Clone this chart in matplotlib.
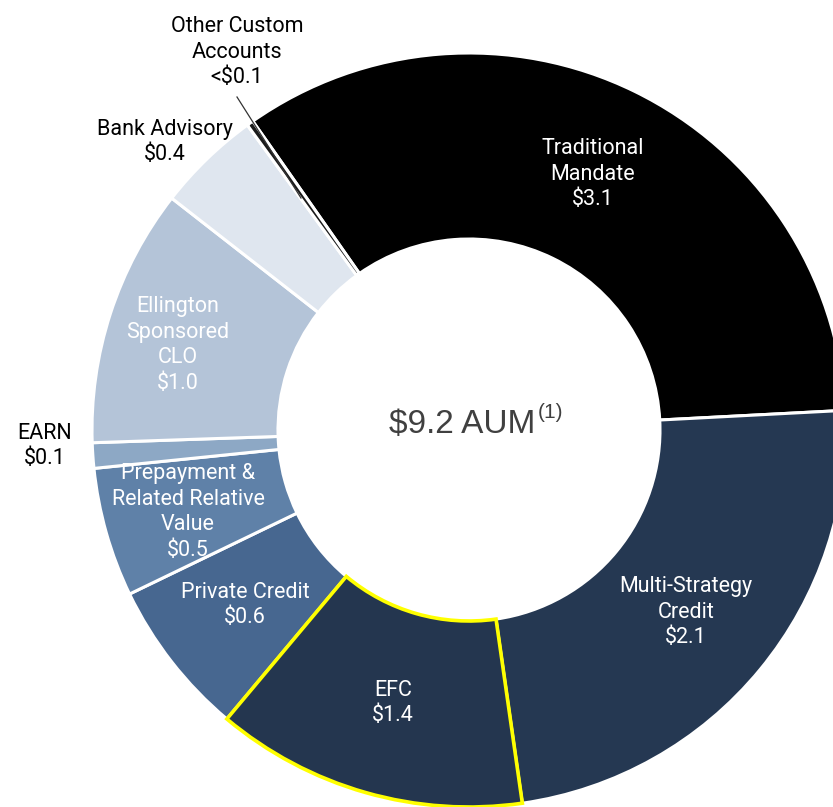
import matplotlib
matplotlib.use('Agg')
import matplotlib.pyplot as plt

# literal dollar signs everywhere
plt.rcParams['text.parse_math'] = False
plt.rcParams['font.family'] = ['Roboto', 'DejaVu Sans']

# AUM by strategy ($bn); sizes as drawn in the ring
segments = ['Traditional\nMandate', 'Multi-Strategy\nCredit', 'EFC', 'Private Credit',
            'Prepayment &\nRelated Relative\nValue', 'EARN', 'Ellington\nSponsored\nCLO',
            'Bank Advisory', 'Other Custom\nAccounts']
aum = [3.12, 2.17, 1.23, 0.62, 0.51, 0.10, 1.02, 0.41, 0.026]
aum_labels = ['$3.1', '$2.1', '$1.4', '$0.6', '$0.5', '$0.1', '$1.0', '$0.4', '<$0.1']
total_label = '$9.2 AUM'

colors = ['#000000', '#253852', '#24364F', '#476790', '#5F81A8',
          '#8DA8C5', '#B4C4D8', '#DFE6EF', '#1A1A1A']
text_colors = ['white', 'white', 'white', 'white', 'white',
               'black', 'white', 'black', 'black']
# label anchor points in pixels (x, y from top)
label_pos = [(593, 174), (686, 612), (393, 703), (245, 605), (188, 512),
             (45, 446), (178, 345), (165, 142), (237, 52)]

W, H = 833, 807
fig = plt.figure(figsize=(W / 100, H / 100), dpi=100)
ax = fig.add_axes([0, 0, 1, 1])

cx, cy = 469, H - 430
r_out, r_in = 377, 191

wedges, _ = ax.pie(aum, colors=colors, startangle=125, counterclock=False,
                   radius=r_out, center=(cx, cy),
                   wedgeprops=dict(width=r_out - r_in, edgecolor='white', linewidth=2.2))

# highlight EFC
wedges[2].set_edgecolor('#FFFF00')
wedges[2].set_linewidth(2.6)
wedges[2].set_zorder(3)

for name, val, (x, y), tc in zip(segments, aum_labels, label_pos, text_colors):
    ax.text(x, H - y, name + '\n' + val, ha='center', va='center', color=tc,
            fontsize=15.5, linespacing=1.3, zorder=5)

# leader line for the small slice
ax.plot([237, 301], [H - 97, H - 198], color='#333333', lw=0.9, zorder=4)

ax.text(462, H - 425, total_label, ha='center', va='center', color='#404040',
        fontsize=24, family=['Liberation Sans', 'DejaVu Sans'])
ax.text(538, H - 413, '(1)', ha='left', va='center', color='#404040',
        fontsize=15, family=['Liberation Sans', 'DejaVu Sans'])

ax.set_xlim(0, W)
ax.set_ylim(0, H)
ax.set_aspect('equal')
ax.set_axis_off()

fig.savefig('out.png', dpi=100)
